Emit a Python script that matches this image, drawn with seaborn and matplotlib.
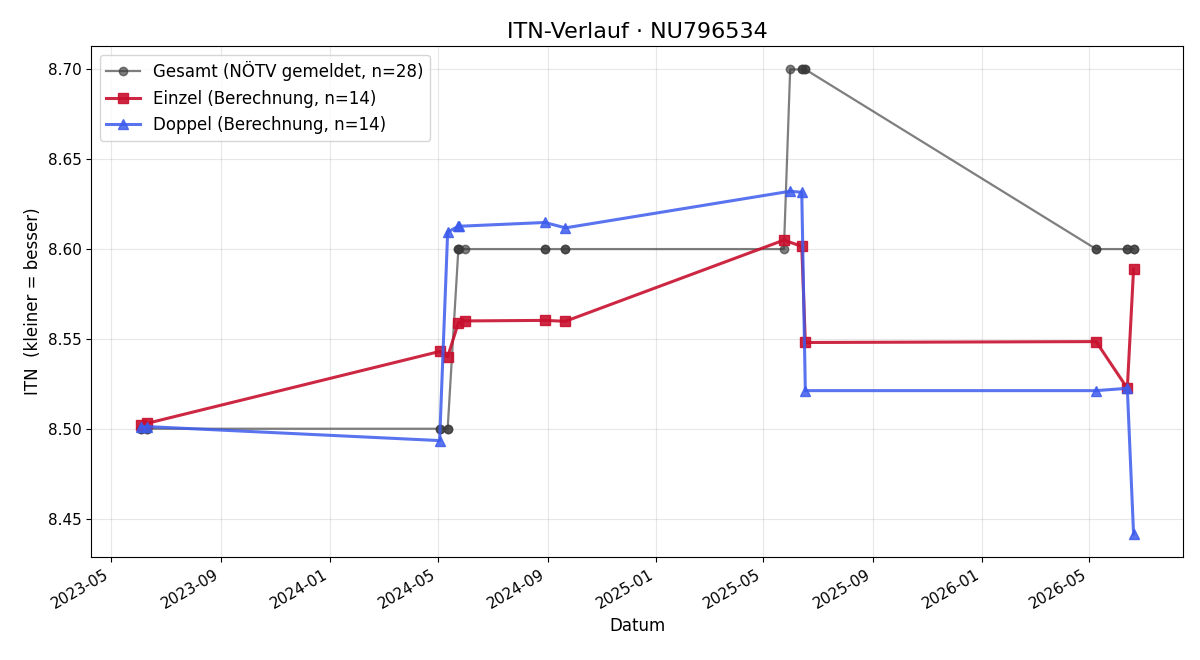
import pandas as pd
import matplotlib
matplotlib.use("Agg")
import matplotlib.pyplot as plt
import matplotlib.dates as mdates
import seaborn as sns

# Einzel / Doppel ITN (Berechnung)
einzel_dates = ["2023-06-03", "2023-06-10", "2024-05-03", "2024-05-12", "2024-05-24",
                "2024-05-31", "2024-08-29", "2024-09-21", "2025-05-24", "2025-06-13",
                "2025-06-17", "2026-05-09", "2026-06-13", "2026-06-20"]
einzel_itn = [8.502, 8.503, 8.543, 8.540, 8.559, 8.560, 8.5603, 8.5598, 8.605, 8.6015,
              8.548, 8.5485, 8.5225, 8.5888]

doppel_dates = ["2023-06-03", "2023-06-10", "2024-05-03", "2024-05-12", "2024-05-24",
                "2024-05-25", "2024-08-29", "2024-09-21", "2025-05-31", "2025-06-13",
                "2025-06-17", "2026-05-09", "2026-06-13", "2026-06-20"]
doppel_itn = [8.5012, 8.5012, 8.4934, 8.6095, 8.6127, 8.6127, 8.6148, 8.6118, 8.6322, 8.6316,
              8.5212, 8.5212, 8.5225, 8.4415]

# Gesamt ITN (NÖTV gemeldet), one value per date of both lists
gesamt_einzel = [8.50, 8.50, 8.50, 8.50, 8.60, 8.60, 8.60, 8.60, 8.60, 8.70,
                 8.70, 8.60, 8.60, 8.60]
gesamt_doppel = [8.50, 8.50, 8.50, 8.50, 8.60, 8.60, 8.60, 8.60, 8.70, 8.70,
                 8.70, 8.60, 8.60, 8.60]

df_e = pd.DataFrame({"Datum": pd.to_datetime(einzel_dates), "ITN": einzel_itn})
df_d = pd.DataFrame({"Datum": pd.to_datetime(doppel_dates), "ITN": doppel_itn})
df_g = pd.DataFrame({"Datum": pd.to_datetime(einzel_dates + doppel_dates),
                     "ITN": gesamt_einzel + gesamt_doppel}).sort_values("Datum", kind="stable")

fig, ax = plt.subplots(figsize=(12, 6.6), dpi=100)

sns.lineplot(data=df_g, x="Datum", y="ITN", estimator=None, sort=False, ax=ax,
             color="#3a3a3a", alpha=0.65, linewidth=1.6, marker="o", markersize=6,
             markeredgecolor="#3a3a3a", markeredgewidth=1,
             label="Gesamt (NÖTV gemeldet, n=28)")
sns.lineplot(data=df_e, x="Datum", y="ITN", estimator=None, sort=False, ax=ax,
             color="#c8102e", alpha=0.9, linewidth=2.2, marker="s", markersize=7,
             markeredgecolor="#c8102e", markeredgewidth=1,
             label="Einzel (Berechnung, n=14)")
sns.lineplot(data=df_d, x="Datum", y="ITN", estimator=None, sort=False, ax=ax,
             color="#3d5ced", alpha=0.85, linewidth=2.2, marker="^", markersize=7,
             markeredgecolor="#3d5ced", markeredgewidth=1,
             label="Doppel (Berechnung, n=14)")

ax.set_title("ITN-Verlauf · NU796534", fontsize=16)
ax.set_xlabel("Datum", fontsize=12)
ax.set_ylabel("ITN  (kleiner = besser)", fontsize=12)
ax.grid(True, alpha=0.3)
ax.xaxis.set_major_locator(mdates.MonthLocator(bymonth=[1, 5, 9]))
ax.xaxis.set_major_formatter(mdates.DateFormatter("%Y-%m"))
ax.tick_params(labelsize=11)
ax.legend(loc="upper left", fontsize=12)
fig.autofmt_xdate()

fig.subplots_adjust(left=0.076, right=0.986, top=0.930, bottom=0.156)
fig.savefig("out.png", dpi=100)
